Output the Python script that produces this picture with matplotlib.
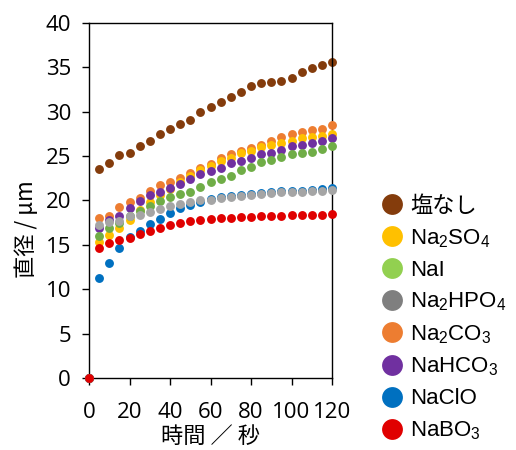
import matplotlib
matplotlib.use("Agg")
import matplotlib.pyplot as plt
from matplotlib.lines import Line2D

plt.rcParams['font.family'] = ['Open Sans', 'Noto Sans CJK JP', 'DejaVu Sans']
plt.rcParams['mathtext.fontset'] = 'custom'
plt.rcParams['mathtext.rm'] = 'Liberation Sans'
plt.rcParams['mathtext.it'] = 'Liberation Sans'

time_s = [0, 5, 10, 15, 20, 25, 30, 35, 40, 45, 50, 55, 60,
          65, 70, 75, 80, 85, 90, 95, 100, 105, 110, 115, 120]

no_salt = [0, 23.5, 24.2, 25.1, 25.3, 26.1, 26.7, 27.5, 28.1, 28.6, 29.1, 30.0, 30.5,
           31.1, 31.7, 32.2, 32.9, 33.2, 33.4, 33.5, 33.8, 34.5, 34.9, 35.3, 35.6]
na2so4 = [0, 15.3, 16.1, 16.9, 17.8, 18.9, 19.8, 20.6, 21.3, 22.1, 22.8, 23.4, 23.9,
          24.4, 24.8, 25.3, 25.6, 26.0, 26.25, 26.5, 26.75, 27.0, 27.2, 27.3, 27.5]
nai = [0, 16.0, 16.9, 17.5, 18.3, 18.8, 19.4, 19.9, 20.4, 20.7, 21.0, 21.5, 22.05,
       22.4, 22.8, 23.4, 23.8, 24.3, 24.6, 24.9, 25.2, 25.3, 25.5, 25.8, 26.1]
na2hpo4 = [0, 17.2, 17.6, 17.7, 18.2, 18.4, 18.7, 19.0, 19.4, 19.6, 19.8, 20.0, 20.1,
           20.25, 20.35, 20.45, 20.6, 20.7, 20.8, 20.9, 20.95, 20.95, 21.05, 21.1, 21.2]
na2co3 = [0, 18.0, 18.25, 19.3, 19.8, 20.3, 21.1, 21.7, 22.05, 22.5, 23.1, 23.7, 24.1,
          24.8, 25.2, 25.6, 25.9, 26.25, 26.7, 27.1, 27.5, 27.7, 27.9, 28.1, 28.5]
nahco3 = [0, 16.9, 17.8, 18.2, 19.2, 19.9, 20.6, 20.9, 21.4, 21.9, 22.4, 22.95, 23.3,
          23.7, 24.2, 24.5, 24.8, 25.2, 25.4, 25.7, 26.1, 26.3, 26.45, 26.75, 27.0]
naclo = [0, 11.3, 13.0, 14.7, 15.9, 16.6, 17.3, 17.9, 18.55, 19.1, 19.5, 19.85, 20.15,
         20.35, 20.5, 20.6, 20.75, 20.85, 20.95, 21.05, 21.1, 21.1, 21.2, 21.25, 21.35]
nabo3 = [0, 14.7, 15.2, 15.6, 15.8, 16.2, 16.6, 16.9, 17.25, 17.5, 17.7, 17.8, 17.9,
         18.0, 18.05, 18.1, 18.15, 18.2, 18.2, 18.25, 18.35, 18.35, 18.4, 18.4, 18.45]

labels = ['塩なし', 'Na$_2$SO$_4$', 'NaI', 'Na$_2$HPO$_4$',
          'Na$_2$CO$_3$', 'NaHCO$_3$', 'NaClO', 'NaBO$_3$']
series = [no_salt, na2so4, nai, na2hpo4, na2co3, nahco3, naclo, nabo3]
colors = ['#843C0C', '#FFC000', '#70AD47', '#A5A5A5', '#ED7D31', '#7030A0', '#0070C0', '#E00000']
legend_colors = ['#843C0C', '#FFC000', '#92D050', '#7F7F7F', '#ED7D31', '#7030A0', '#0070C0', '#E00000']
# stacking seen in the picture: orange under yellow under purple, blue under gray, red on top
zorders = [2, 4, 6, 8, 3, 5, 7, 9]

fig = plt.figure(figsize=(5.16, 4.5), dpi=100)
ax = fig.add_axes([0.1725, 0.16, 0.471, 0.789])

for y, c, z in zip(series, colors, zorders):
    ax.plot(time_s, y, linestyle='none', marker='o', markersize=6.4,
            markeredgewidth=0, color=c, zorder=z, clip_on=False)

ax.set_xlim(0, 120)
ax.set_ylim(0, 40)
ax.set_xticks(range(0, 121, 20))
ax.set_yticks(range(0, 41, 5))
ax.tick_params(direction='out', length=5, width=1, labelsize=16, colors='black')
ax.tick_params(axis='x', pad=12)
ax.tick_params(axis='y', pad=8)
for s in ax.spines.values():
    s.set_linewidth(1)
    s.set_color('black')

fig.text(0.05, 0.49, '直径 / μm', rotation=90, ha='center', va='center',
         fontsize=16, family=['Noto Sans CJK JP', 'DejaVu Sans'])
fig.text(0.407, 0.03, '時間 ／ 秒', ha='center', va='center',
         fontsize=16, family=['Noto Sans CJK JP', 'DejaVu Sans'])

handles = [Line2D([], [], linestyle='none', marker='o', markersize=15,
                  markeredgewidth=0, color=c) for c in legend_colors]
leg = fig.legend(handles, labels, loc='upper left', bbox_to_anchor=(0.70, 0.609),
                 frameon=False, handlelength=1.0, handletextpad=0.3, labelspacing=0.45,
                 prop={'family': ['Liberation Sans', 'Noto Sans CJK JP'], 'size': 16})

fig.savefig('out.png', dpi=100)
